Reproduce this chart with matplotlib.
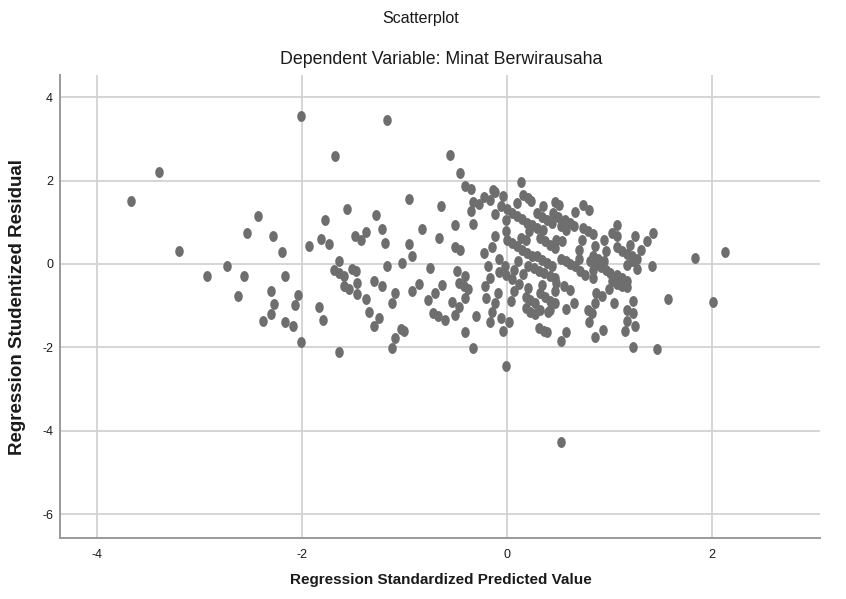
import matplotlib
matplotlib.use("Agg")
import matplotlib.pyplot as plt
from matplotlib.path import Path
import matplotlib.transforms as mtransforms

plt.rcParams['font.family'] = ['Liberation Sans', 'DejaVu Sans']
plt.rcParams['axes.unicode_minus'] = False

# predicted value (x) / studentized residual (y)
pred = [
    -3.67, -3.39, -3.20, -2.93, -2.73, -2.62, -2.57, -2.54, -2.43, -2.38, -2.30, -2.30,
    -2.28, -2.27, -2.20, -2.17, -2.17, -2.09, -2.07, -2.04, -2.01, -2.01, -1.93,
    -1.83, -1.82, -1.80, -1.78, -1.74, -1.69, -1.68, -1.64, -1.64, -1.64, -1.59, -1.59,
    -1.56, -1.54, -1.51, -1.48, -1.47, -1.46, -1.46, -1.43, -1.38, -1.38, -1.35, -1.30,
    -1.30, -1.28, -1.25, -1.22, -1.22, -1.19, -1.17, -1.17, -1.12, -1.12, -1.09, -1.09,
    -1.04, -1.03, -1.01, -0.96, -0.96, -0.93, -0.93, -0.86, -0.83, -0.77, -0.75, -0.72,
    -0.70, -0.67, -0.66, -0.65, -0.64, -0.61, -0.56, -0.54, -0.51, -0.51, -0.51, -0.49,
    -0.47, -0.47, -0.46,
    -0.46, -0.41, -0.41, -0.42, -0.38, -0.41, -0.41, -0.35, -0.35, -0.33, -0.33, -0.33,
    -0.30, -0.27, -0.23, -0.23, -0.22, -0.21, -0.19, -0.17, -0.17, -0.17, -0.15, -0.15,
    -0.14, -0.12, -0.12, -0.12, -0.12, -0.09, -0.08, -0.08, -0.06, -0.06, -0.04, -0.04,
    -0.02, -0.01, -0.01, -0.01, -0.01, 0.00, 0.00, 0.02, 0.04, 0.05, 0.05, 0.05, 0.07,
    0.07, 0.10, 0.10, 0.10, 0.11, 0.12, 0.13, 0.13, 0.14, 0.14, 0.15, 0.15, 0.18, 0.18,
    0.18, 0.19, 0.19, 0.20, 0.20, 0.20, 0.21, 0.22, 0.22, 0.23, 0.24, 0.24, 0.26, 0.27,
    0.27, 0.29, 0.29, 0.29, 0.31, 0.31, 0.32, 0.32, 0.32, 0.34, 0.34, 0.34, 0.35, 0.35,
    0.36, 0.36, 0.37, 0.37, 0.39, 0.39, 0.39, 0.40, 0.42, 0.42, 0.42, 0.42, 0.44, 0.44,
    0.45, 0.47, 0.47, 0.47, 0.47, 0.47,
    0.48, 0.48, 0.50, 0.51, 0.52, 0.52, 0.52, 0.52, 0.53, 0.55, 0.56, 0.57, 0.57, 0.57,
    0.57, 0.61, 0.61, 0.61, 0.65, 0.65, 0.66, 0.66, 0.70, 0.70, 0.73, 0.74, 0.74, 0.79,
    0.79, 0.80, 0.80, 0.83, 0.84, 0.84, 0.84, 0.84, 0.86, 0.86, 0.86, 0.87, 0.89, 0.92,
    0.93, 0.94, 0.94, 0.96, 0.99, 1.02, 1.02, 1.04, 1.07, 1.07, 1.07, 1.07, 1.12, 1.12,
    1.15, 1.17, 1.17, 1.17, 1.17, 1.20, 1.22, 1.23, 1.23, 1.23, 1.25, 1.25, 1.27, 1.30,
    1.36, 1.41, 1.42, 1.46, 1.57, 1.83, 2.01, 2.12,
    0.71, 0.76, 0.81, 0.86, 0.91, 0.96, 1.00, 1.07, 1.12, 1.17, 1.22, 1.27, 1.17,
]
resid = [
    1.52, 2.21, 0.30, -0.30, -0.06, -0.76, -0.28, 0.75, 1.15, -1.36, -0.66, -1.20,
    0.66, -0.97, 0.28, -0.28, -1.38, -1.49, -0.98, -0.74, 3.55, -1.88, 0.43,
    -1.04, 0.59, -1.34, 1.06, 0.48, -0.14, 2.59, 0.06, -0.21, -2.10, -0.28, -0.54,
    1.31, -0.61, -0.13, 0.66, -0.17, -0.46, -0.73, 0.58, 0.77, -0.84, -1.14, -0.41,
    -1.49, 1.18, -1.29, 0.83, -0.53, 0.51, 3.45, -0.04, -0.93, -2.01, -0.70, -1.78,
    -1.57, 0.03, -1.61, 1.55, 0.47, 0.18, -0.65, -0.49, 0.83, -0.86, -0.09, -1.18,
    -0.70, -1.25, 0.62, 1.39, -0.50, -1.34, 2.62, -0.92, 0.93, 0.41, -1.22, -0.18,
    -0.46, -1.02, 2.18,
    0.34, 1.88, -0.28, -0.53, -0.61, -0.82, -1.64, 1.79, 1.27, 1.49, 0.95, -2.02,
    -1.25, 1.43, 1.60, 0.27, -0.53, -0.82, -0.05, 1.53, -0.34, -1.40, 0.41, -1.16,
    1.77, 1.72, 1.20, 0.66, -0.94, -0.70, 0.11, -0.20, 1.39, -1.30, 1.64, -1.60,
    -0.05, 1.06, 0.80, -0.26, -2.45, 1.31, 0.58, -1.38, -0.90, 1.23, 0.50, -0.37, -0.14,
    -0.66, 1.15, 1.47, 0.42, 0.08, -0.48, 1.97, 0.62, 1.07, 0.34, 1.65, -0.24, 0.58, -0.80,
    -1.06, 0.99, 0.26, 1.58, -0.05, -0.58, 0.78, -0.86, -1.14, 1.52, 0.94, 0.18, -0.10, -0.93,
    -1.21, 0.87, 1.22, 0.18, -0.17, -1.54, 0.62, -0.70, -1.10, 1.13, 0.10, -0.50, 1.38, 0.82,
    -0.22, -1.61, 0.54, -0.80, 1.06, 0.02, -1.64, -1.14, 0.46, -0.29, -0.88, -1.10, 0.98, -0.06,
    1.22, 1.49, 0.38, -0.34, -0.66, -0.94,
    -0.46, 0.58, 1.13, 1.41, 0.90, 0.11, -1.85, -4.28, 0.54, -0.54, 1.06, 0.82, 0.06, -1.09,
    -1.62, 0.98, 0.00, -0.62, 0.90, -0.93, 1.25, -0.06, 0.34, 0.11, 0.58, 1.41, 0.86, 0.78,
    -1.10, 1.29, -1.40, -1.17, 0.72, 0.18, -0.14, -0.34, 0.43, -0.94, -1.76, -0.69, 0.11, -0.77,
    -1.58, 0.58, 0.06, 0.32, -0.61, 0.74, -0.42, -0.93, 0.94, 0.67, 0.40, -0.48, 0.32, -0.54,
    -1.61, 0.24, -0.56, -1.10, -1.37, 0.46, 0.18, -0.90, -1.18, -2.00, 0.67, -1.49, 0.11, 0.34,
    0.54, -0.06, 0.74, -2.05, -0.85, 0.14, -0.92, 0.28,
    -0.18, -0.26, 0.06, -0.02, -0.08, -0.14, -0.21, -0.26, -0.34, -0.40, 0.06, -0.13, -0.02,
]

x_ticks = [-4, -2, 0, 2]
y_ticks = [4, 2, 0, -2, -4, -6]

# slightly taller than wide dots, like the SPSS output
dot = Path.unit_circle().transformed(mtransforms.Affine2D().scale(0.78, 1.0))

fig = plt.figure(figsize=(8.46, 5.99), dpi=100)
ax = fig.add_axes([60/846, 1 - 538/599, 760/846, 463/599])

ax.scatter(pred, resid, marker=dot, s=62, color='#6e6e6e', linewidths=0, zorder=3)

ax.set_xlim(-4.36, 3.05)
ax.set_ylim(-6.57, 4.53)
ax.set_xticks(x_ticks)
ax.set_yticks(y_ticks)
ax.grid(True, color='#d2d2d2', linewidth=1.3, zorder=0)
ax.tick_params(length=0, labelsize=9, colors='#1a1a1a')
ax.tick_params(axis='x', pad=8)
ax.tick_params(axis='y', pad=5)

for side in ['top', 'right']:
    ax.spines[side].set_visible(False)
for side in ['left', 'bottom']:
    ax.spines[side].set_color('#9a9a9a')
    ax.spines[side].set_linewidth(1.4)

fig.text(421/846, 1 - 19/599, 'Scatterplot', ha='center', va='center', fontsize=11.5, color='#1a1a1a')
fig.text(441/846, 1 - 60/599, 'Dependent Variable: Minat Berwirausaha', ha='center', va='center',
         fontsize=12.8, color='#1a1a1a')
fig.text(441/846, 1 - 580/599, 'Regression Standardized Predicted Value', ha='center', va='center',
         fontsize=11, fontweight='bold', color='#1a1a1a')
fig.text(18/846, 1 - 307/599, 'Regression Studentized Residual', ha='center', va='center',
         rotation=90, fontsize=13.5, fontweight='bold', color='#1a1a1a')

fig.savefig('out.png', dpi=100)
